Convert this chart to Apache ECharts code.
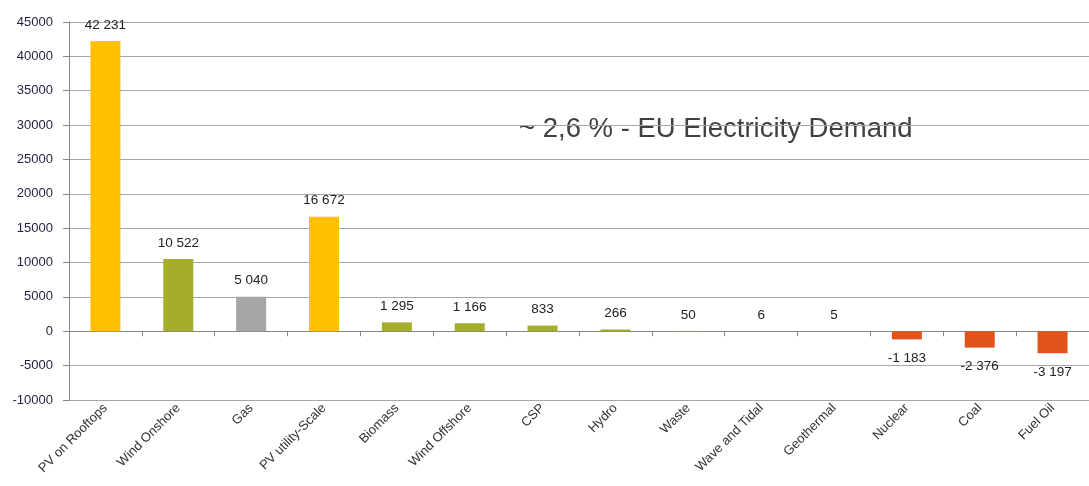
<!DOCTYPE html>
<html><head><meta charset="utf-8">
<script src="https://cdn.jsdelivr.net/npm/echarts@6/dist/echarts.min.js"></script>
<style>html,body{margin:0;padding:0;background:#fff}#c{width:1089px;height:486px}</style>
</head><body><div id="c"></div>
<script>
const categories = ["PV on Rooftops","Wind Onshore","Gas","PV utility-Scale","Biomass","Wind Offshore","CSP","Hydro","Waste","Wave and Tidal","Geothermal","Nuclear","Coal","Fuel Oil"];
const values = [42231,10522,5040,16672,1295,1166,833,266,50,6,5,-1183,-2376,-3197];
const groups = ["solar","wind","gas","solar","green","green","green","green","green","green","green","down","down","down"];
const palette = {solar:"#FFC000", wind:"#A5AE2B", gas:"#A6A6A6", green:"#A5AE2B", down:"#E2531B"};
const yTicks = {min:-10000, max:45000, step:5000};
const note = "~ 2,6 % - EU Electricity Demand";

const fmt = v => String(v).replace(/\B(?=(\d{3})+(?!\d))/g, " ");
const font = "'Liberation Sans', Arial, sans-serif";

const chart = echarts.init(document.getElementById('c'));
chart.setOption({
  animation:false,
  grid:{left:69, top:22, width:1030, height:378, containLabel:false},
  xAxis:[
    {type:'category', data:categories, position:'bottom',
     axisLine:{onZero:true, lineStyle:{color:'#868686', width:1}},
     axisTick:{show:true, interval:0, length:5, alignWithLabel:false, lineStyle:{color:'#868686'}},
     axisLabel:{show:false}, splitLine:{show:false}},
    {type:'category', data:categories, position:'bottom',
     axisLine:{show:false, onZero:false}, axisTick:{show:false},
     axisLabel:{show:true, interval:0, rotate:45, margin:6, color:'#333', fontSize:13, fontFamily:font},
     splitLine:{show:false}}
  ],
  yAxis:{type:'value', min:yTicks.min, max:yTicks.max, interval:yTicks.step,
    axisLine:{show:true, lineStyle:{color:'#868686'}},
    axisTick:{show:true, length:6, inside:false, lineStyle:{color:'#868686'}},
    axisLabel:{color:'#1f2040', fontSize:13, fontFamily:font, margin:16, formatter:v=>String(v)},
    splitLine:{show:true, lineStyle:{color:'#a6a6a6', width:1}}},
  series:[{
    type:'bar', xAxisIndex:0, barWidth:30,
    data: values.map((v,i)=>({value:v, itemStyle:{color:palette[groups[i]]},
      label:{position: v<0?'bottom':'top', distance: v<0?12:9}})),
    label:{show:true, color:'#222', fontSize:13.5, fontFamily:font, formatter:p=>fmt(p.value)}
  }],
  graphic:[{type:'text', left:519, top:115, style:{text:note, fill:'#404040', fontSize:27.5, fontFamily:font}}]
});
</script></body></html>
